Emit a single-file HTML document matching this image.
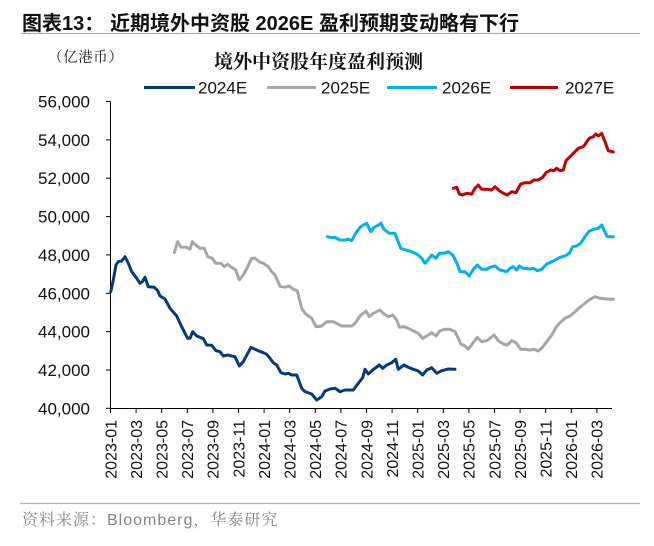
<!DOCTYPE html>
<html><head><meta charset="utf-8"><style>
html,body{margin:0;padding:0;background:#fff;}
body{width:654px;height:546px;overflow:hidden;}
svg{display:block;}
</style></head><body>
<svg width="654" height="546" viewBox="0 0 654 546" xmlns="http://www.w3.org/2000/svg">
<rect width="654" height="546" fill="#fff"/>
<text x="22" y="30" font-family="'Liberation Sans','Noto Sans CJK SC',sans-serif" font-size="20" font-weight="bold" fill="#111">图表13：</text>
<text x="110" y="30" font-family="'Liberation Sans','Noto Sans CJK SC',sans-serif" font-size="20" font-weight="bold" fill="#111">近期境外中资股 2026E 盈利预期变动略有下行</text>
<line x1="21" y1="33.5" x2="640" y2="33.5" stroke="#a3b4c8" stroke-width="1.2"/>
<text x="48" y="62" font-family="'Liberation Serif','Noto Serif CJK SC',serif" font-size="14.5" letter-spacing="0.6" fill="#222">（亿港币）</text>
<text x="214" y="68" font-family="'Liberation Serif','Noto Serif CJK SC',serif" font-size="19" font-weight="bold" fill="#111">境外中资股年度盈利预测</text>
<g font-family="'Liberation Sans',sans-serif" font-size="17" fill="#111">
<line x1="144" y1="87.5" x2="195" y2="87.5" stroke="#043b7c" stroke-width="3"/>
<text x="198" y="93.5">2024E</text>
<line x1="267" y1="87.5" x2="316" y2="87.5" stroke="#a6a6a6" stroke-width="3"/>
<text x="321" y="93.5">2025E</text>
<line x1="387" y1="87.5" x2="437" y2="87.5" stroke="#00b0f0" stroke-width="3"/>
<text x="442" y="93.5">2026E</text>
<line x1="510" y1="87.5" x2="558" y2="87.5" stroke="#c00000" stroke-width="3"/>
<text x="565" y="93.5">2027E</text>
</g>
<g font-family="'Liberation Sans',sans-serif" font-size="17" fill="#111" text-anchor="end">
<text x="90" y="107.5">56,000</text>
<text x="90" y="145.9">54,000</text>
<text x="90" y="184.2">52,000</text>
<text x="90" y="222.6">50,000</text>
<text x="90" y="260.9">48,000</text>
<text x="90" y="299.3">46,000</text>
<text x="90" y="337.6">44,000</text>
<text x="90" y="376">42,000</text>
<text x="90" y="414.3">40,000</text>
</g>
<g stroke="#000" stroke-width="1">
<line x1="110.5" y1="101.5" x2="110.5" y2="408.5"/>
<line x1="106" y1="101.5" x2="110.5" y2="101.5"/>
<line x1="106" y1="139.9" x2="110.5" y2="139.9"/>
<line x1="106" y1="178.2" x2="110.5" y2="178.2"/>
<line x1="106" y1="216.6" x2="110.5" y2="216.6"/>
<line x1="106" y1="254.9" x2="110.5" y2="254.9"/>
<line x1="106" y1="293.3" x2="110.5" y2="293.3"/>
<line x1="106" y1="331.6" x2="110.5" y2="331.6"/>
<line x1="106" y1="370" x2="110.5" y2="370"/>
<line x1="106" y1="408.3" x2="110.5" y2="408.3"/>
<line x1="110" y1="408.5" x2="612" y2="408.5"/>
</g>
<g stroke="#000" stroke-width="1">
<line x1="110.5" y1="408.5" x2="110.5" y2="413"/>
<line x1="136.1" y1="408.5" x2="136.1" y2="413"/>
<line x1="161.7" y1="408.5" x2="161.7" y2="413"/>
<line x1="187.3" y1="408.5" x2="187.3" y2="413"/>
<line x1="212.9" y1="408.5" x2="212.9" y2="413"/>
<line x1="238.5" y1="408.5" x2="238.5" y2="413"/>
<line x1="264.1" y1="408.5" x2="264.1" y2="413"/>
<line x1="289.7" y1="408.5" x2="289.7" y2="413"/>
<line x1="315.3" y1="408.5" x2="315.3" y2="413"/>
<line x1="340.9" y1="408.5" x2="340.9" y2="413"/>
<line x1="366.5" y1="408.5" x2="366.5" y2="413"/>
<line x1="392.1" y1="408.5" x2="392.1" y2="413"/>
<line x1="417.7" y1="408.5" x2="417.7" y2="413"/>
<line x1="443.3" y1="408.5" x2="443.3" y2="413"/>
<line x1="468.9" y1="408.5" x2="468.9" y2="413"/>
<line x1="494.5" y1="408.5" x2="494.5" y2="413"/>
<line x1="520.1" y1="408.5" x2="520.1" y2="413"/>
<line x1="545.7" y1="408.5" x2="545.7" y2="413"/>
<line x1="571.3" y1="408.5" x2="571.3" y2="413"/>
<line x1="596.9" y1="408.5" x2="596.9" y2="413"/>
</g>
<g font-family="'Liberation Sans',sans-serif" font-size="16" fill="#111" text-anchor="end">
<text transform="translate(116.3,420) rotate(-90)">2023-01</text>
<text transform="translate(141.9,420) rotate(-90)">2023-03</text>
<text transform="translate(167.5,420) rotate(-90)">2023-05</text>
<text transform="translate(193.1,420) rotate(-90)">2023-07</text>
<text transform="translate(218.7,420) rotate(-90)">2023-09</text>
<text transform="translate(244.3,420) rotate(-90)">2023-11</text>
<text transform="translate(269.9,420) rotate(-90)">2024-01</text>
<text transform="translate(295.5,420) rotate(-90)">2024-03</text>
<text transform="translate(321.1,420) rotate(-90)">2024-05</text>
<text transform="translate(346.7,420) rotate(-90)">2024-07</text>
<text transform="translate(372.3,420) rotate(-90)">2024-09</text>
<text transform="translate(397.9,420) rotate(-90)">2024-11</text>
<text transform="translate(423.5,420) rotate(-90)">2025-01</text>
<text transform="translate(449.1,420) rotate(-90)">2025-03</text>
<text transform="translate(474.7,420) rotate(-90)">2025-05</text>
<text transform="translate(500.3,420) rotate(-90)">2025-07</text>
<text transform="translate(525.9,420) rotate(-90)">2025-09</text>
<text transform="translate(551.5,420) rotate(-90)">2025-11</text>
<text transform="translate(577.1,420) rotate(-90)">2026-01</text>
<text transform="translate(602.7,420) rotate(-90)">2026-03</text>
</g>
<g fill="none" stroke-width="3" stroke-linejoin="round" stroke-linecap="round">
<polyline stroke="#043b7c" points="110.8,291.7 113.3,280 116,265 118.3,261.7 121.7,261 125,256.7 128.3,263.3 131.7,271.7 136.7,278.3 140,283.3 142.3,281.7 145,277.3 148.3,286.7 154.3,287.3 157.7,290.7 160,296 165,299 170,308.3 176.7,316 181.7,326.7 185,333.3 187.7,338.3 190,338.3 192.7,331.7 196.7,336 203.3,338.7 206.7,345 211.7,345.3 216,350.7 220,351.7 223.3,356 227.7,355 231.7,356 235,356.7 239.3,366 243.3,361.7 247.7,353.3 251,347.3 255,349.3 258.3,350.7 263.3,352.7 266.7,354.3 270,358.3 273.3,362.7 276.7,365 281,372.7 285,374 288.3,373.3 291.7,375 296.7,375 301.7,388.3 305,391.7 311.7,394 316.7,400 321.7,396.7 325,391 330,389 335,388.3 340,391.7 345,390 353.3,390 358.3,383.3 362.7,377.7 365,369.3 368.3,374 372.7,370 379.3,365 382.7,368.3 386.7,365 391.7,362.7 395.7,359.3 398.3,369.3 404,365 408.3,367.3 413.3,369.3 418.3,371 422.7,375 426.7,370 431.7,367.7 436.7,373.3 441.7,370.7 448.3,369 455,369.3"/>
<polyline stroke="#a6a6a6" points="174.3,252.7 177.7,241.7 181,247.3 186.7,247.3 190,249.3 192.3,241.7 195.7,245 200,248.3 204.3,248.3 207.7,256.7 212.3,258.3 215.7,263.3 221,263.3 224.3,266.7 227.7,264.3 231.7,267.3 235.7,270 239.3,280 243.3,275 247.7,266.7 251.7,258.3 255,258.3 259,261.7 263.3,263.3 268.3,266.7 271.7,271.7 275,275 280,286.3 285,287.3 289.3,286 293.3,289.3 297.3,290.7 301.7,308.3 305,313.3 311.7,318.3 316,326.7 321.7,326 326.7,321.7 333.3,321.7 341.7,326 351.7,326 355,323.3 360,316 366,311 369.3,316.7 373.3,313.3 380,310 384,314 388.3,316.7 392.7,315 396.7,320 399.3,327.3 404,326.7 408.3,328.3 412.7,330.7 418.3,333.3 422.7,338.3 426.7,336 431.7,332.7 436,336 440,330.7 445,329.3 450,329.3 455,331.7 458.3,338.3 460.7,344 465,346 468.3,349.3 472.7,343.3 477.3,337.3 481.7,341.7 486.7,340.7 490,338.3 494,335 498.3,340.7 503.3,344 507.3,345 511.7,340.7 516,342.7 520.7,349.3 525,349.3 530,350 534,349.3 538.3,351 541.7,348.3 546.7,341.7 551.7,335 556,327.3 560,322.7 565,318.3 570,316 575,311.7 580,307.3 585,303.3 590,299.3 595,296.7 600,298.3 606.7,299 613.3,299.3"/>
<polyline stroke="#00b0f0" points="327.3,236.7 331.7,237.7 335,237.3 340,240 345,240 348.3,239.3 351.7,240.7 356,232.7 360,227.3 363.3,225 366.7,223.3 370.7,231.7 374,227.3 377.3,225.7 381,223.3 384,229.3 389.3,233.3 395,233.3 400.7,248.3 406,250 411.7,251.7 417.3,254.3 421.7,258.3 425,263.3 428.3,259.3 431.7,255 436,258.3 439.3,253.3 444,253.3 448.3,251.7 452.7,255 456.7,262.7 460,271.7 465,271.7 469.3,276 473.3,269.3 477.3,265 481.7,269.3 486.7,269.3 490,267.3 495,266 500,270 506.7,271.7 510,268.3 513.3,266.7 516.7,270 519.3,266 523.3,268.3 530,269 533.3,268.3 537.3,270.7 541.7,269.3 546.7,264 551.7,261.7 556.7,259.3 560,257.3 565,256 569.3,253.3 572.7,246.7 576.7,246 580.7,243.3 585,236.7 589.3,231 594,229.3 598.3,228.3 601.7,225 607.3,236.7 613.3,236.7"/>
<polyline stroke="#c00000" points="453.3,188.3 456.7,187.3 459.3,194 462.7,195 466.7,193.3 471.7,194 475,188.3 478.3,185 481.7,189.3 486.7,189.3 491.7,190 495,186.7 499.3,190.7 503.3,193.3 507.3,195 511.7,191.7 516,192.7 520.7,184 525,182.7 530,182.7 534,180 538.3,180 542.7,177.3 546,172.7 550.7,170 554,170.7 556.7,168.3 560,170.7 563.3,170 566,160.7 570,156.7 574,152.7 578.3,148.3 583.3,146.7 589.3,138.3 593.3,136.7 595.7,134 598.3,136 601.7,133.3 605,141.7 608.3,150.7 613.3,152"/>
</g>
<line x1="20" y1="503.5" x2="640" y2="503.5" stroke="#a3b4c8" stroke-width="1.2"/>
<text x="22" y="525" font-family="'Liberation Sans','Noto Serif CJK SC',sans-serif" font-size="16" letter-spacing="1" fill="#858585">资料来源：Bloomberg，华泰研究</text>
</svg>
</body></html>
